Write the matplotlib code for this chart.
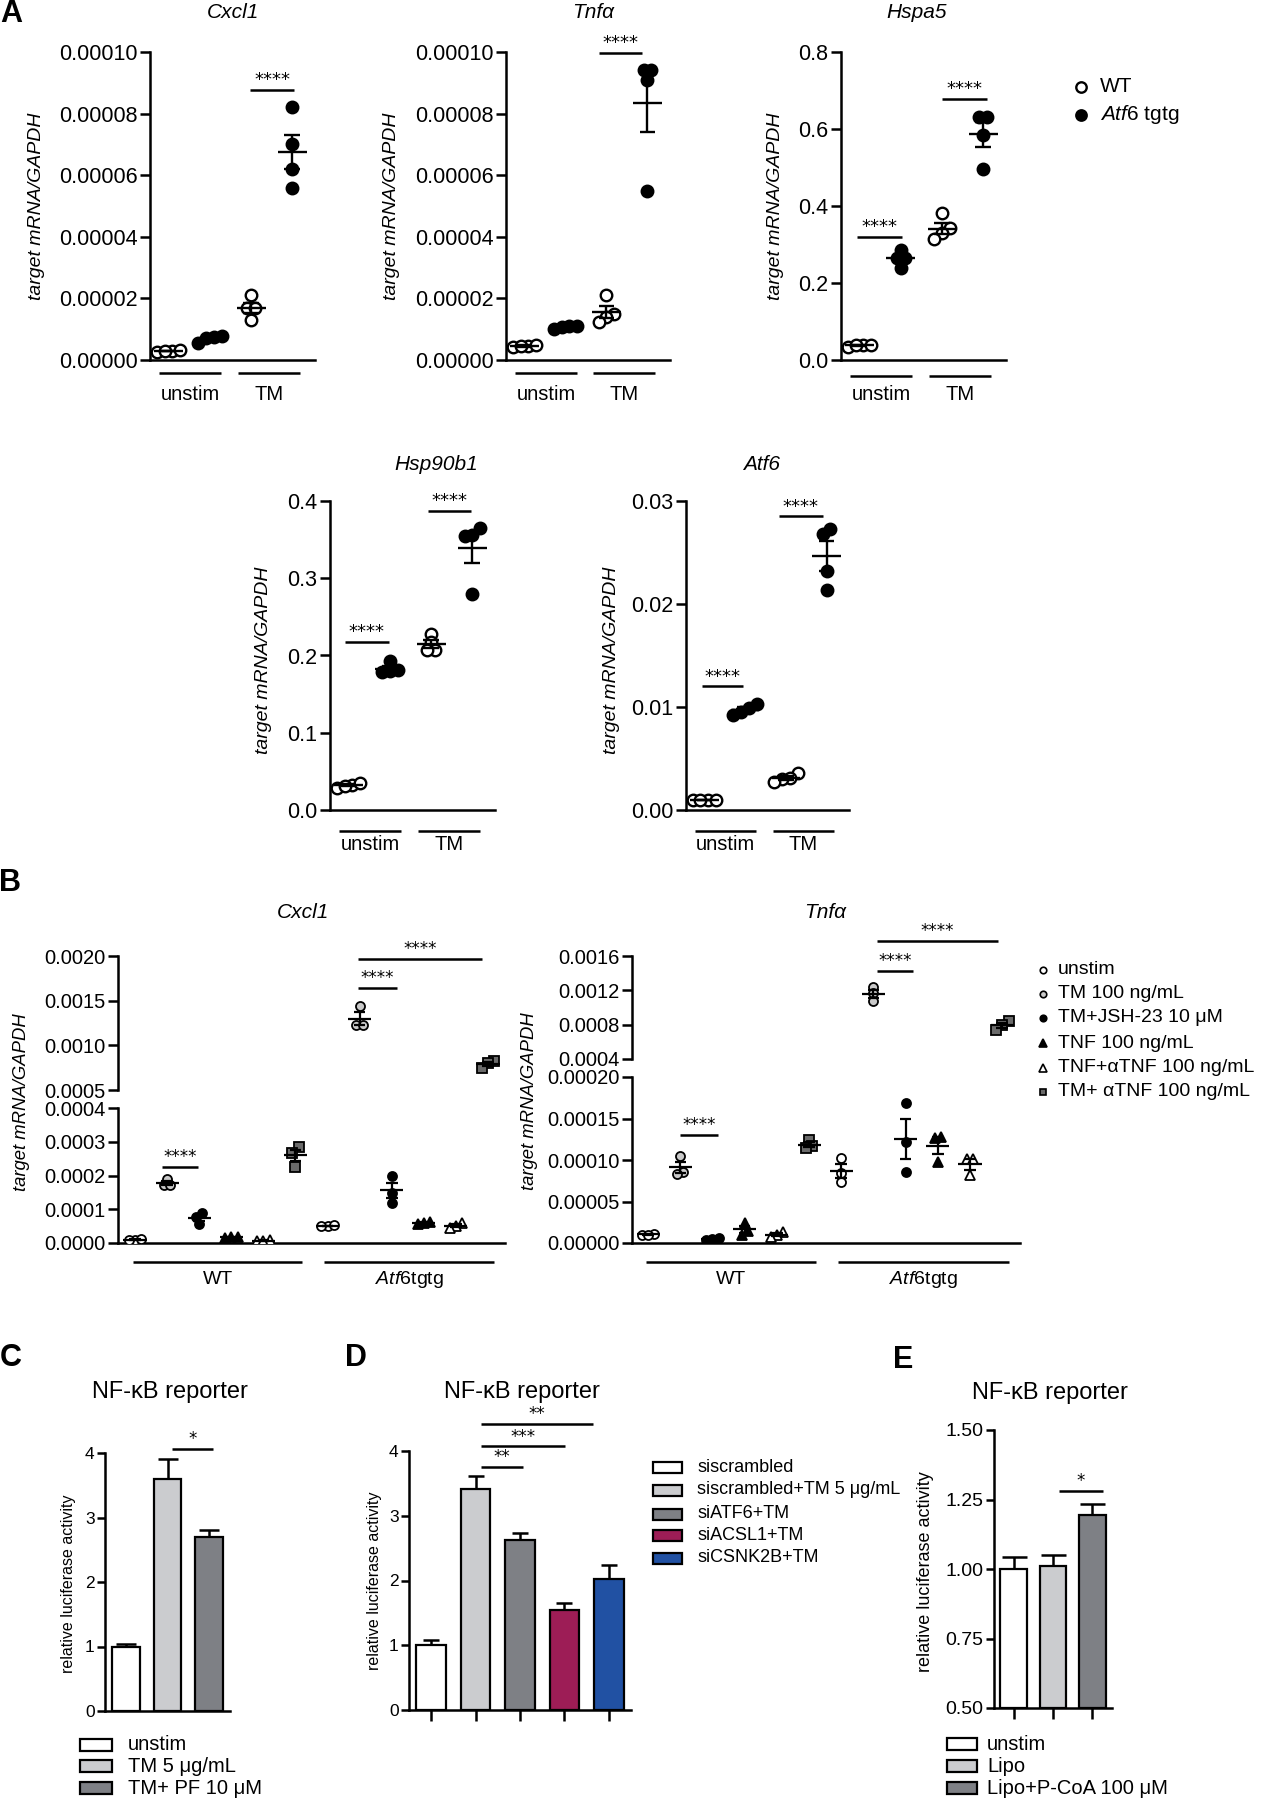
import numpy as np
import matplotlib
matplotlib.use('Agg')
import matplotlib.pyplot as plt
from matplotlib.ticker import FormatStrFormatter, FixedLocator
from matplotlib.transforms import blended_transform_factory as btf
from matplotlib.patches import Rectangle

# ---------------- data ----------------
# Panel A: order of groups -> WT unstim, Atf6tgtg unstim, WT TM, Atf6tgtg TM
a_groups = ['unstim', 'TM']
a_legend = ['WT', 'Atf6 tgtg']
cxcl1_A = [[3.0e-6, 2.6e-6, 3.2e-6, 2.8e-6],
           [7.8e-6, 5.5e-6, 7.4e-6, 7.2e-6],
           [2.1e-5, 1.7e-5, 1.7e-5, 1.3e-5],
           [8.2e-5, 7.0e-5, 6.2e-5, 5.6e-5]]
tnfa_A = [[4.6e-6, 4.2e-6, 5.0e-6, 4.4e-6],
          [1.12e-5, 1.0e-5, 1.1e-5, 1.08e-5],
          [2.1e-5, 1.5e-5, 1.4e-5, 1.25e-5],
          [9.4e-5, 9.4e-5, 9.1e-5, 5.5e-5]]
hspa5_A = [[0.040, 0.035, 0.040, 0.038],
           [0.287, 0.264, 0.264, 0.240],
           [0.382, 0.342, 0.329, 0.313],
           [0.631, 0.631, 0.584, 0.497]]
hsp90b1_A = [[0.033, 0.029, 0.035, 0.031],
             [0.193, 0.180, 0.178, 0.181],
             [0.228, 0.218, 0.207, 0.207],
             [0.365, 0.356, 0.355, 0.280]]
atf6_A = [[0.00098, 0.00095, 0.00099, 0.00096],
          [0.0099, 0.0103, 0.0095, 0.0092],
          [0.0036, 0.0031, 0.0030, 0.0027],
          [0.0273, 0.0268, 0.0232, 0.0214]]

# Panel B: six conditions for WT and Atf6tgtg
b_conditions = ['unstim', 'TM 100 ng/mL', 'TM+JSH-23 10 μM', 'TNF 100 ng/mL',
                'TNF+αTNF 100 ng/mL', 'TM+ αTNF 100 ng/mL']
b_genotypes = ['WT', 'Atf6tgtg']
cxcl1_B_wt = [[1.0e-5, 1.1e-5, 0.9e-5], [1.9e-4, 1.72e-4, 1.72e-4], [8.8e-5, 7.8e-5, 5.6e-5],
              [1.8e-5, 1.5e-5, 1.7e-5], [5e-6, 9e-6, 7e-6], [2.84e-4, 2.68e-4, 2.26e-4]]
cxcl1_B_tg = [[5.0e-5, 5.2e-5, 4.9e-5], [1.44e-3, 1.23e-3, 1.23e-3], [1.99e-4, 1.49e-4, 1.19e-4],
              [6.3e-5, 5.7e-5, 5.8e-5], [6.0e-5, 5.0e-5, 4.5e-5], [8.3e-4, 8.0e-4, 7.5e-4]]
tnfa_B_wt = [[1.0e-5, 1.1e-5, 1.0e-5], [1.05e-4, 8.5e-5, 8.3e-5], [6e-6, 5e-6, 4e-6],
             [2.4e-5, 1.5e-5, 1.0e-5], [1.3e-5, 1.0e-5, 7e-6], [1.24e-4, 1.17e-4, 1.15e-4]]
tnfa_B_tg = [[1.02e-4, 8.4e-5, 7.3e-5], [1.235e-3, 1.165e-3, 1.08e-3], [1.685e-4, 1.22e-4, 8.6e-5],
             [1.28e-4, 1.27e-4, 9.7e-5], [1.01e-4, 1.01e-4, 8.2e-5], [8.4e-4, 8.0e-4, 7.4e-4]]

# Panels C, D, E
c_labels = ['unstim', 'TM 5 μg/mL', 'TM+ PF 10 μM']
c_means = [1.0, 3.6, 2.7]
c_sem = [0.04, 0.31, 0.10]
d_labels = ['siscrambled', 'siscrambled+TM 5 μg/mL', 'siATF6+TM', 'siACSL1+TM', 'siCSNK2B+TM']
d_means = [1.0, 3.42, 2.62, 1.55, 2.03]
d_sem = [0.08, 0.20, 0.11, 0.11, 0.21]
e_labels = ['unstim', 'Lipo', 'Lipo+P-CoA 100 μM']
e_means = [1.0, 1.011, 1.195]
e_sem = [0.043, 0.040, 0.039]

# ---------------- style ----------------
W, H = 1265, 1800
plt.rcParams['font.family'] = ['Liberation Sans', 'DejaVu Sans']
plt.rcParams['mathtext.fontset'] = 'custom'
plt.rcParams['mathtext.rm'] = 'Liberation Sans'
plt.rcParams['mathtext.it'] = 'Liberation Sans:italic'
plt.rcParams['axes.linewidth'] = 1.8
LW = 1.8

fig = plt.figure(figsize=(W / 100, H / 100), dpi=100)
ov = fig.add_axes([0, 0, 1, 1])
ov.set_xlim(0, W)
ov.set_ylim(H, 0)
ov.axis('off')
ov.set_zorder(10)


def add_ax(x0, y0, x1, y1):
    return fig.add_axes([x0 / W, 1 - y1 / H, (x1 - x0) / W, (y1 - y0) / H])


def swarm_x(ax, xc, vals, diam_px, spacing=0.6, chain=0.55):
    vals = np.asarray(vals, float)
    T = ax.transData
    pix = T.transform(np.column_stack([np.full(len(vals), float(xc)), vals]))
    order = np.argsort(pix[:, 1])
    xs_pix = pix[:, 0].copy()
    clusters, cur = [], [order[0]]
    for a, b in zip(order[:-1], order[1:]):
        if pix[b, 1] - pix[a, 1] < chain * diam_px:
            cur.append(b)
        else:
            clusters.append(cur)
            cur = [b]
    clusters.append(cur)
    for cl in clusters:
        n = len(cl)
        offs = (np.arange(n) - (n - 1) / 2) * diam_px * spacing
        for k, idx in enumerate(cl):
            xs_pix[idx] += offs[k]
    return T.inverted().transform(np.column_stack([xs_pix, pix[:, 1]]))[:, 0]


def mean_sem(ax, xc, vals, hw_mean, hw_cap, lw, clip=False):
    m = np.mean(vals)
    s = np.std(vals, ddof=1) / np.sqrt(len(vals))
    kw = dict(color='k', lw=lw, zorder=4, clip_on=clip, solid_capstyle='butt')
    ax.plot([xc - hw_mean, xc + hw_mean], [m, m], **kw)
    ax.plot([xc, xc], [m - s, m + s], **kw)
    ax.plot([xc - hw_cap, xc + hw_cap], [m + s, m + s], **kw)
    ax.plot([xc - hw_cap, xc + hw_cap], [m - s, m - s], **kw)


def sig(ax, x0, x1, y, txt, fs, lw=LW, pad=0.5):
    ax.plot([x0, x1], [y, y], color='k', lw=lw, clip_on=False, solid_capstyle='butt')
    ax.annotate(txt, xy=((x0 + x1) / 2, y), xytext=(0, pad), textcoords='offset points',
                ha='center', va='bottom', fontsize=fs, family='DejaVu Sans', annotation_clip=False)


def base_style(ax, fs, ticklen=7):
    for s in ['top', 'right']:
        ax.spines[s].set_visible(False)
    ax.tick_params(axis='y', length=ticklen, width=LW, labelsize=fs, pad=2)
    ax.set_xticks([])


# ---------------- Panel A ----------------
def panel_A(box, data, ylim, ystep, fmt, title, title_xy, ylab_xy, line_y, lab_y):
    ax = add_ax(*box)
    ax.set_xlim(-0.45, 3.55)
    ax.set_ylim(*ylim)
    base_style(ax, 15.5)
    ax.yaxis.set_major_locator(FixedLocator(np.arange(ylim[0], ylim[1] + ystep / 2, ystep)))
    ax.yaxis.set_major_formatter(FormatStrFormatter(fmt))
    for i, vals in enumerate(data):
        filled = (i % 2 == 1)
        xs = swarm_x(ax, i, vals, 13)
        ax.plot(xs, vals, 'o', ms=8.3, mfc='k' if filled else 'white', mec='k', mew=1.7,
                ls='none', zorder=3, clip_on=False)
        mean_sem(ax, i, vals, 0.35, 0.19, 1.7)
    tr = btf(ax.transData, ov.transData)
    for (g0, g1), name in zip([(-0.22, 1.27), (1.68, 3.18)], a_groups):
        ov.plot([g0, g1], [line_y, line_y], color='k', lw=LW, transform=tr, solid_capstyle='butt')
        ov.text((g0 + g1) / 2, lab_y, name, transform=tr, ha='center', va='center', fontsize=14.5)
    ov.text(title_xy[0], title_xy[1], title, ha='center', va='center', fontsize=15, style='italic')
    ov.text(ylab_xy[0], ylab_xy[1], 'target mRNA/GAPDH', ha='center', va='center', fontsize=14,
            style='italic', rotation=90)
    return ax


ax = panel_A((150, 52, 315, 360), cxcl1_A, (0, 1e-4), 2e-5, '%.5f', 'Cxcl1', (233, 13), (37, 206), 373, 394)
sig(ax, 1.98, 3.05, 8.76e-5, '****', 13)
ax = panel_A((506, 52, 670, 360), tnfa_A, (0, 1e-4), 2e-5, '%.5f', 'Tnfα', (593, 13), (391, 206), 373, 394)
sig(ax, 1.83, 2.87, 9.97e-5, '****', 13)
ax = panel_A((841, 52, 1006, 360), hspa5_A, (0, 0.8), 0.2, '%.1f', 'Hspa5', (917, 13), (775, 206), 376, 394)
sig(ax, -0.06, 1.03, 0.32, '****', 13)
sig(ax, 2.0, 3.08, 0.679, '****', 13)
ax = panel_A((330, 501, 495, 810), hsp90b1_A, (0, 0.4), 0.1, '%.1f', 'Hsp90b1', (436, 464), (264, 660), 831, 845)
sig(ax, -0.09, 0.98, 0.218, '****', 13)
sig(ax, 1.93, 2.97, 0.387, '****', 13)
ax = panel_A((686, 501, 849, 810), atf6_A, (0, 0.03), 0.01, '%.2f', 'Atf6', (762, 464), (612, 660), 831, 845)
sig(ax, -0.06, 0.96, 0.012, '****', 13)
sig(ax, 1.84, 2.9, 0.0285, '****', 13)

# legend A
ov.plot([1081], [87], 'o', ms=7.5, mfc='white', mec='k', mew=1.7)
ov.plot([1081], [115], 'o', ms=7.5, mfc='k', mec='k', mew=1.7)
ov.text(1100, 87, a_legend[0], va='center', fontsize=15)
ov.text(1100, 115, r'$\mathit{Atf6}$ tgtg', va='center', fontsize=15)

# ---------------- Panel B ----------------
b_styles = [dict(marker='o', mfc='white', ms=6.5),
            dict(marker='o', mfc='#c9c9c9', ms=6.5),
            dict(marker='o', mfc='black', ms=6.5),
            dict(marker='^', mfc='black', ms=7.5),
            dict(marker='^', mfc='white', ms=7.5),
            dict(marker='s', mfc='#6a6a6a', ms=6.5)]


def panel_B(x0, x1, up_box, lo_box, up_lim, up_step, up_fmt, lo_lim, lo_step, lo_fmt,
            wt, tg, xlim, title, title_xy, ylab_xy):
    axu = add_ax(x0, up_box[0], x1, up_box[1])
    axl = add_ax(x0, lo_box[0], x1, lo_box[1])
    for a, lim, st, fm in [(axu, up_lim, up_step, up_fmt), (axl, lo_lim, lo_step, lo_fmt)]:
        a.set_xlim(*xlim)
        a.set_ylim(*lim)
        base_style(a, 14.5, ticklen=7)
        a.yaxis.set_major_locator(FixedLocator(np.arange(lim[0], lim[1] + st / 2, st)))
        a.yaxis.set_major_formatter(FormatStrFormatter(fm))
        a.patch.set_visible(False)
    axu.spines['bottom'].set_visible(False)
    groups = list(wt) + list(tg)
    for i, vals in enumerate(groups):
        stl = b_styles[i % 6]
        m = np.mean(vals)
        host = axu if m > up_lim[0] else axl
        xs = swarm_x(host, i, vals, 10.5)
        for a in (axu, axl):
            a.plot(xs, vals, ls='none', mec='k', mew=1.3, zorder=3, **stl)
            mean_sem(a, i, vals, 0.36, 0.18, 1.6, clip=True)
    tr = btf(axl.transData, ov.transData)
    for (g0, g1), name in zip([(-0.05, 5.2), (5.9, 11.2)], ['WT', r'$\mathit{Atf6}$tgtg']):
        ov.plot([g0, g1], [1262, 1262], color='k', lw=LW, transform=tr, solid_capstyle='butt')
        ov.text((g0 + g1) / 2, 1279, name, transform=tr, ha='center', va='center', fontsize=14)
    ov.text(title_xy[0], title_xy[1], title, ha='center', va='center', fontsize=15, style='italic')
    ov.text(ylab_xy[0], ylab_xy[1], 'target mRNA/GAPDH', ha='center', va='center', fontsize=13.3,
            style='italic', rotation=90)
    return axu, axl


axu, axl = panel_B(118, 505, (956, 1090), (1108, 1243), (0.0005, 0.0020), 0.0005, '%.4f',
                   (0, 0.0004), 0.0001, '%.4f', cxcl1_B_wt, cxcl1_B_tg, (-0.53, 11.53),
                   'Cxcl1', (303, 913), (22, 1102))
sig(axl, 0.84, 1.96, 0.000226, '****', 12)
sig(axu, 6.95, 8.16, 0.00164, '****', 12)
sig(axu, 6.95, 10.8, 0.00197, '****', 12)

axu, axl = panel_B(632, 1020, (956, 1059), (1077, 1243), (0.0004, 0.0016), 0.0004, '%.4f',
                   (0, 0.0002), 0.00005, '%.5f', tnfa_B_wt, tnfa_B_tg, (-0.5, 11.55),
                   'Tnfα', (825, 913), (529, 1101))
sig(axl, 0.99, 2.17, 0.00013, '****', 12)
sig(axu, 7.1, 8.23, 0.00143, '****', 12)
sig(axu, 7.1, 10.87, 0.00178, '****', 12)

# legend B
leg_y = [970, 994, 1018, 1043, 1068, 1092]
for stl, lab, yy in zip(b_styles, b_conditions, leg_y):
    s2 = dict(stl)
    s2['ms'] = stl['ms'] * 0.72
    ov.plot([1043], [yy], ls='none', mec='k', mew=1.2, **s2)
    ov.text(1058, yy, lab, va='center', fontsize=14)

# ---------------- Panels C, D, E ----------------
def bar_panel(box, means, sems, colors, ylim, yticks, fmt, tick_fs, xticks, capsize):
    ax = add_ax(*box)
    n = len(means)
    ax.set_xlim(-0.5, n - 0.5)
    ax.set_ylim(*ylim)
    for s in ['top', 'right']:
        ax.spines[s].set_visible(False)
    ax.bar(np.arange(n), [m - ylim[0] for m in means], bottom=ylim[0], width=0.67, color=colors,
           edgecolor='k', linewidth=1.6, zorder=2)
    ax.errorbar(np.arange(n), means, yerr=[np.zeros(n), sems], fmt='none', ecolor='k',
                elinewidth=LW, capsize=capsize, capthick=LW, zorder=1)
    ax.set_yticks(yticks)
    ax.yaxis.set_major_formatter(FormatStrFormatter(fmt))
    ax.tick_params(axis='y', length=6, width=LW, labelsize=tick_fs, pad=1.5)
    if xticks:
        ax.set_xticks(np.arange(n))
        ax.set_xticklabels([])
        ax.tick_params(axis='x', length=8, width=LW)
    else:
        ax.set_xticks([])
    return ax


def bar_legend(x, ys, labels, colors, w, h, fs, tx):
    for yy, lab, col in zip(ys, labels, colors):
        ov.add_patch(Rectangle((x, yy - h / 2), w, h, facecolor=col, edgecolor='k', lw=1.6))
        ov.text(tx, yy, lab, va='center', fontsize=fs)


c_colors = ['white', '#cbcccf', '#7e8085']
ax = bar_panel((105, 1453, 230, 1711), c_means, c_sem, c_colors, (0, 4), [0, 1, 2, 3, 4], '%d', 12.5,
               False, 7.5)
sig(ax, 1.11, 2.1, 4.06, '*', 12)
ov.text(170, 1392, 'NF-κB reporter', ha='center', va='center', fontsize=17)
ov.text(69, 1584, 'relative luciferase activity', ha='center', va='center', fontsize=11.5, rotation=90)
bar_legend(80, [1745, 1766, 1788], c_labels, c_colors, 32, 12, 14.5, 128)

d_colors = ['white', '#cbcccf', '#7e8085', '#9d1d56', '#2151a3']
ax = bar_panel((409, 1451, 631, 1710), d_means, d_sem, d_colors, (0, 4), [0, 1, 2, 3, 4], '%d', 12.5,
               True, 6)
sig(ax, 1.12, 2.06, 3.76, '**', 12)
sig(ax, 1.12, 3.01, 4.07, '***', 12)
sig(ax, 1.12, 3.65, 4.42, '**', 12)
ov.text(522, 1392, 'NF-κB reporter', ha='center', va='center', fontsize=17)
ov.text(375, 1581, 'relative luciferase activity', ha='center', va='center', fontsize=11.5, rotation=90)
bar_legend(653, [1467, 1490, 1514, 1535, 1558], d_labels, d_colors, 29, 11, 13, 697)

e_colors = ['white', '#cbcccf', '#7e8085']
ax = bar_panel((994, 1430, 1112, 1708), e_means, e_sem, e_colors, (0.5, 1.5),
               [0.5, 0.75, 1.0, 1.25, 1.5], '%.2f', 14, True, 9)
sig(ax, 1.15, 2.28, 1.282, '*', 12)
ov.text(1050, 1393, 'NF-κB reporter', ha='center', va='center', fontsize=17)
ov.text(926, 1572, 'relative luciferase activity', ha='center', va='center', fontsize=13, rotation=90)
bar_legend(947, [1744, 1766, 1788], e_labels, e_colors, 30, 12, 14.5, 987)

# panel letters
for letter, (x, y) in zip('ABCDE', [(11, 14), (10, 883), (11, 1358), (356, 1358), (903, 1360)]):
    ov.text(x, y, letter, ha='center', va='center', fontsize=22, fontweight='bold')

fig.savefig('out.png', dpi=100)
